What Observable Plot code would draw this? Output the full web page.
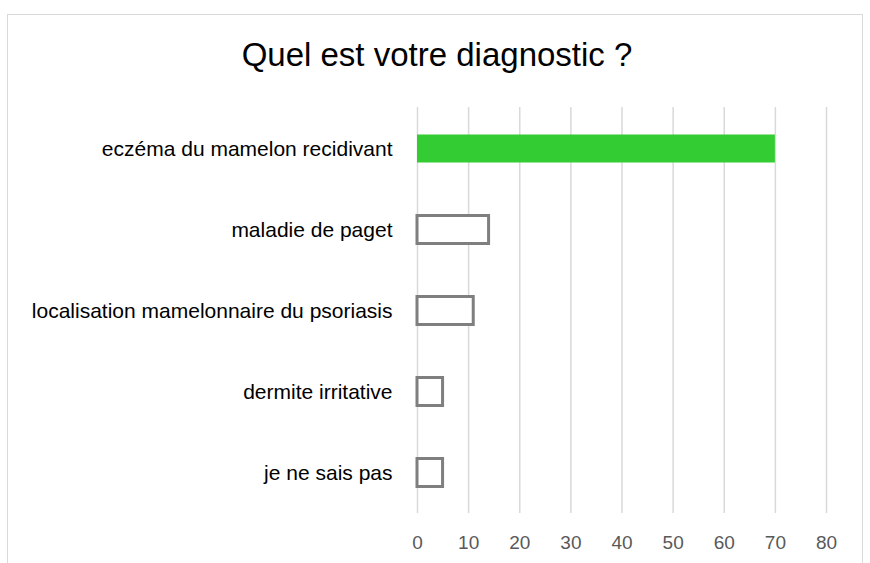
<!DOCTYPE html>
<html>
<head>
<meta charset="utf-8">
<script src="https://cdn.jsdelivr.net/npm/d3@7"></script>
<script src="https://cdn.jsdelivr.net/npm/@observablehq/plot@0.6"></script>
<style>
  html, body { margin: 0; padding: 0; background: #fff; }
  body { width: 870px; height: 563px; position: relative; overflow: hidden; font-family: "Liberation Sans", Arial, sans-serif; }
  #frame { position: absolute; left: 7px; top: 14px; width: 856px; height: 600px; border: 1px solid #d9d9d9; box-sizing: border-box; }
  #title { position: absolute; left: 0; top: 35px; width: 874px; text-align: center; font-size: 33px; color: #000; line-height: 40px; }
  #chart { position: absolute; left: 0; top: 80px; }
</style>
</head>
<body>
<div id="frame"></div>
<div id="title">Quel est votre diagnostic ?</div>
<div id="chart"></div>
<script>
const categories = [
  "eczéma du mamelon recidivant",
  "maladie de paget",
  "localisation mamelonnaire du psoriasis",
  "dermite irritative",
  "je ne sais pas"
];
const values = [70, 14, 11, 5, 5];
const highlighted = "eczéma du mamelon recidivant";
const xTicks = [0, 10, 20, 30, 40, 50, 60, 70, 80];

const data = categories.map((c, i) => ({category: c, value: values[i]}));

const chart = Plot.plot({
  width: 870,
  height: 483,
  marginLeft: 417,
  marginRight: 44,
  marginTop: 27,
  marginBottom: 50,
  style: {fontFamily: "'Liberation Sans', Arial, sans-serif", background: "transparent", overflow: "visible"},
  x: {domain: [0, 80], ticks: xTicks, label: null},
  y: {domain: categories, label: null, padding: 0},
  marks: [
    Plot.ruleX(xTicks, {stroke: "#d9d9d9", strokeWidth: 1.5}),
    Plot.barX(data.filter(d => d.category === highlighted), {x: "value", y: "category", fill: "#33cc33", insetTop: 26.5, insetBottom: 26.5}),
    Plot.barX(data.filter(d => d.category !== highlighted), {x: "value", y: "category", fill: "#fff", stroke: "#7f7f7f", strokeWidth: 3, insetTop: 26.5, insetBottom: 26.5}),
    Plot.axisX({ticks: xTicks, tickSize: 0, tickPadding: 22, fontSize: 19, color: "#595959", label: null}),
    Plot.axisY({tickSize: 0, tickPadding: 25, fontSize: 21, color: "#000", label: null})
  ]
});
document.getElementById("chart").appendChild(chart);
</script>
</body>
</html>
